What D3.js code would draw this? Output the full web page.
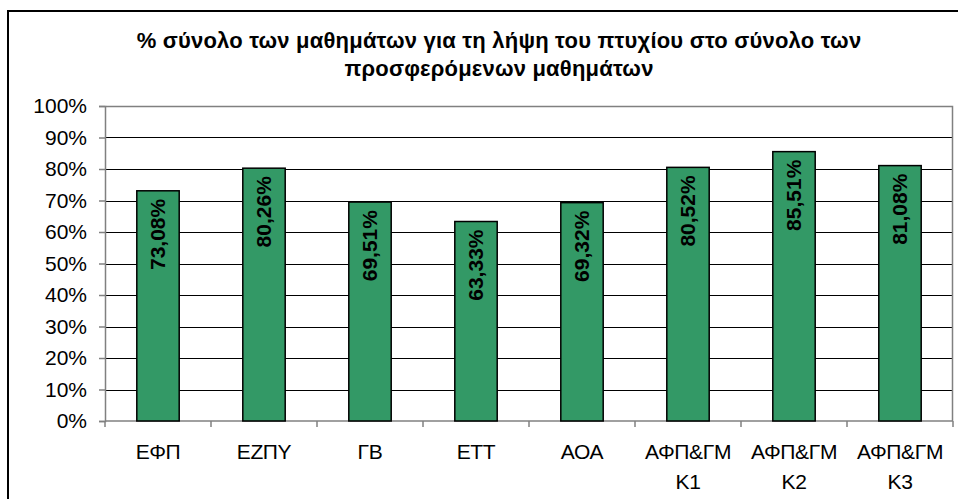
<!DOCTYPE html>
<html>
<head>
<meta charset="utf-8">
<script src="https://cdn.jsdelivr.net/npm/d3@7"></script>
<style>
  body { margin: 0; background: #fff; }
  svg { display: block; font-family: "Liberation Sans", Arial, sans-serif; }
</style>
</head>
<body>
<div id="chart"></div>
<script>
// data
var categories = ["ΕΦΠ", "ΕΖΠΥ", "ΓΒ", "ΕΤΤ", "ΑΟΑ", "ΑΦΠ&ΓΜ Κ1", "ΑΦΠ&ΓΜ Κ2", "ΑΦΠ&ΓΜ Κ3"];
var values = [73.08, 80.26, 69.51, 63.33, 69.32, 80.52, 85.51, 81.08];
var valueLabels = ["73,08%", "80,26%", "69,51%", "63,33%", "69,32%", "80,52%", "85,51%", "81,08%"];
var yTicks = [0, 10, 20, 30, 40, 50, 60, 70, 80, 90, 100];
var titleLines = ["% σύνολο των μαθημάτων για τη λήψη του πτυχίου στο σύνολο των", "προσφερόμενων μαθημάτων"];

var W = 958, H = 499;
var margin = { top: 106, right: 5, bottom: 78, left: 105 },
  width = W - margin.left - margin.right,
  height = H - margin.top - margin.bottom;

var svg = d3.select("#chart")
  .append("svg")
  .attr("width", W)
  .attr("height", H);

// outer frame
svg.append("rect")
  .attr("x", 8).attr("y", 11)
  .attr("width", W + 10).attr("height", H + 10)
  .attr("fill", "#fff")
  .attr("stroke", "#000")
  .attr("stroke-width", 2);

// title
svg.append("text")
  .attr("text-anchor", "middle")
  .attr("font-weight", "bold")
  .attr("font-size", 22)
  .attr("letter-spacing", 0.2)
  .selectAll("tspan")
  .data(titleLines)
  .enter().append("tspan")
  .attr("x", 499)
  .attr("y", function (d, i) { return 48 + i * 28; })
  .text(function (d) { return d; });

var g = svg.append("g")
  .attr("transform", "translate(" + margin.left + "," + margin.top + ")");

var x = d3.scaleBand()
  .domain(categories)
  .range([0, width])
  .paddingInner(0.6)
  .paddingOuter(0.3);

var y = d3.scaleLinear()
  .domain([0, 100])
  .range([height, 0]);

// gridlines
g.selectAll(".grid")
  .data(yTicks.slice(1, -1))
  .enter().append("line")
  .attr("x1", 0).attr("x2", width)
  .attr("y1", function (d) { return Math.round(y(d)) + 0.5; })
  .attr("y2", function (d) { return Math.round(y(d)) + 0.5; })
  .attr("stroke", "#000")
  .attr("stroke-width", 1);

// plot border (top / right)
g.append("path")
  .attr("d", "M0.5,0.5H" + (width - 0.5) + "V" + height)
  .attr("fill", "none")
  .attr("stroke", "#808080")
  .attr("stroke-width", 1.5);

// y axis
var yAxis = g.append("g")
  .call(d3.axisLeft(y).tickValues(yTicks).tickSize(6).tickPadding(12)
    .tickFormat(function (d) { return d + "%"; }));
yAxis.select(".domain").attr("stroke", "#808080").attr("stroke-width", 1.5);
yAxis.selectAll(".tick line").attr("stroke", "#808080").attr("stroke-width", 1.5);
yAxis.selectAll("text")
  .attr("font-size", 21)
  .attr("font-family", "Liberation Sans, Arial, sans-serif")
  .attr("fill", "#000");

// x axis: ticks sit between categories
var xAxis = g.append("g")
  .attr("transform", "translate(0," + height + ")");
xAxis.append("line")
  .attr("x1", 0).attr("x2", width)
  .attr("stroke", "#808080").attr("stroke-width", 1.5);
xAxis.selectAll(".xt")
  .data(d3.range(categories.length + 1))
  .enter().append("line")
  .attr("x1", function (i) { return i * width / categories.length; })
  .attr("x2", function (i) { return i * width / categories.length; })
  .attr("y1", 0).attr("y2", 6)
  .attr("stroke", "#808080").attr("stroke-width", 1.5);

var xl = xAxis.selectAll(".xl")
  .data(categories)
  .enter().append("text")
  .attr("text-anchor", "middle")
  .attr("font-size", 21)
  .attr("letter-spacing", -0.4)
  .attr("fill", "#000");
xl.selectAll("tspan")
  .data(function (d) { return d.split(" "); })
  .enter().append("tspan")
  .attr("x", function () { var c = d3.select(this.parentNode).datum(); return x(c) + x.bandwidth() / 2; })
  .attr("y", function (d, i) { return 38 + i * 30; })
  .text(function (d) { return d; });

// bars
g.selectAll(".bar")
  .data(values)
  .enter().append("rect")
  .attr("x", function (d, i) { return x(categories[i]); })
  .attr("y", function (d) { return y(d); })
  .attr("width", x.bandwidth())
  .attr("height", function (d) { return height - y(d); })
  .attr("fill", "#339966")
  .attr("stroke", "#000")
  .attr("stroke-width", 1.5);

// value labels, rotated, inside the top of the bar
g.selectAll(".lbl")
  .data(values)
  .enter().append("text")
  .attr("transform", function (d, i) {
    return "translate(" + (x(categories[i]) + x.bandwidth() / 2 + 6.5) + "," + (y(d) + 8) + ") rotate(-90)";
  })
  .attr("text-anchor", "end")
  .attr("font-size", 21)
  .attr("font-weight", "bold")
  .attr("fill", "#000")
  .text(function (d, i) { return valueLabels[i]; });
</script>
</body>
</html>
